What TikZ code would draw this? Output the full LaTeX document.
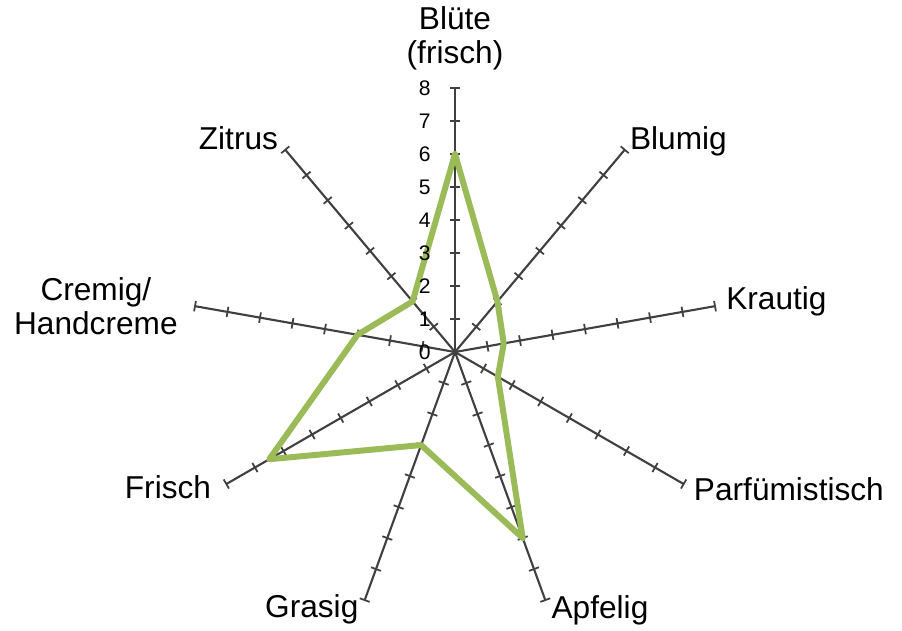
\documentclass[tikz,border=0pt]{standalone}
\usepackage{fontspec}
\setmainfont{Liberation Sans}
\definecolor{axisgray}{HTML}{404040}
\definecolor{profilegreen}{HTML}{9BBB59}
\begin{document}
\begin{tikzpicture}
 [
 x=0.66cm, y=0.66cm,
 spoke/.style={draw=axisgray, line width=1.2pt},
 tickmark/.style={draw=axisgray, line width=1pt},
 profile/.style={draw=profilegreen, line width=3.4pt, line join=round},
 axislabel/.style={inner sep=0pt, align=center, font=\fontsize{18}{19}\selectfont},
 scalelabel/.style={inner sep=0pt, anchor=east, font=\fontsize{12}{13}\selectfont}
 ]
 \useasboundingbox (-9.1cm,-5.56cm) rectangle (8.94cm,7.04cm);
 \coordinate (ctr) at (0,0);
 % spokes, ticks and profile points
 \foreach \ang/\val/\nm in {90/6/bluete, 50/2/blumig, 10/1.5/krautig, -30/1.5/parfum, -70/6/apfelig, -110/3/grasig, -150/6.5/frisch, 170/3/cremig, 130/2/zitrus}
 {
  \coordinate (end-\nm) at (\ang:8);
  \coordinate (p-\nm) at (\ang:\val);
  \draw[spoke] (ctr) -- (end-\nm);
  \begin{scope}[rotate=\ang]
   \foreach \k in {1,...,8}
    \draw[tickmark] (\k,-0.16) -- (\k,0.16);
  \end{scope}
 }
 \draw[profile] (p-bluete) -- (p-blumig) -- (p-krautig) -- (p-parfum) -- (p-apfelig) -- (p-grasig) -- (p-frisch) -- (p-cremig) -- (p-zitrus) -- cycle;
 % scale on the top spoke
 \foreach \k in {0,...,8}
  \node at (90:\k) [scalelabel, xshift=-0.48cm] (num-\k) {\k};
 \node at (end-bluete) [axislabel, anchor=south, yshift=0.36cm] (lab-bluete) {Blüte\\(frisch)};
 \node at (end-blumig) [axislabel, anchor=base west, xshift=0.1cm] (lab-blumig) {Blumig};
 \node at (end-krautig) [axislabel, anchor=base west, xshift=0.22cm, yshift=-0.06cm] (lab-krautig) {Krautig};
 \node at (end-parfum) [axislabel, anchor=base west, xshift=0.2cm, yshift=-0.32cm] (lab-parfum) {Parfümistisch};
 \node at (end-apfelig) [axislabel, anchor=base west, xshift=0.12cm, yshift=-0.36cm] (lab-apfelig) {Apfelig};
 \node at (end-grasig) [axislabel, anchor=base east, xshift=-0.12cm, yshift=-0.34cm] (lab-grasig) {Grasig};
 \node at (end-frisch) [axislabel, anchor=base east, xshift=-0.3cm, yshift=-0.28cm] (lab-frisch) {Frisch};
 \node at (end-cremig) [axislabel, anchor=east, xshift=-0.34cm] (lab-cremig) {Cremig/\\Handcreme};
 \node at (end-zitrus) [axislabel, anchor=base east, xshift=-0.14cm] (lab-zitrus) {Zitrus};
\end{tikzpicture}
\end{document}
